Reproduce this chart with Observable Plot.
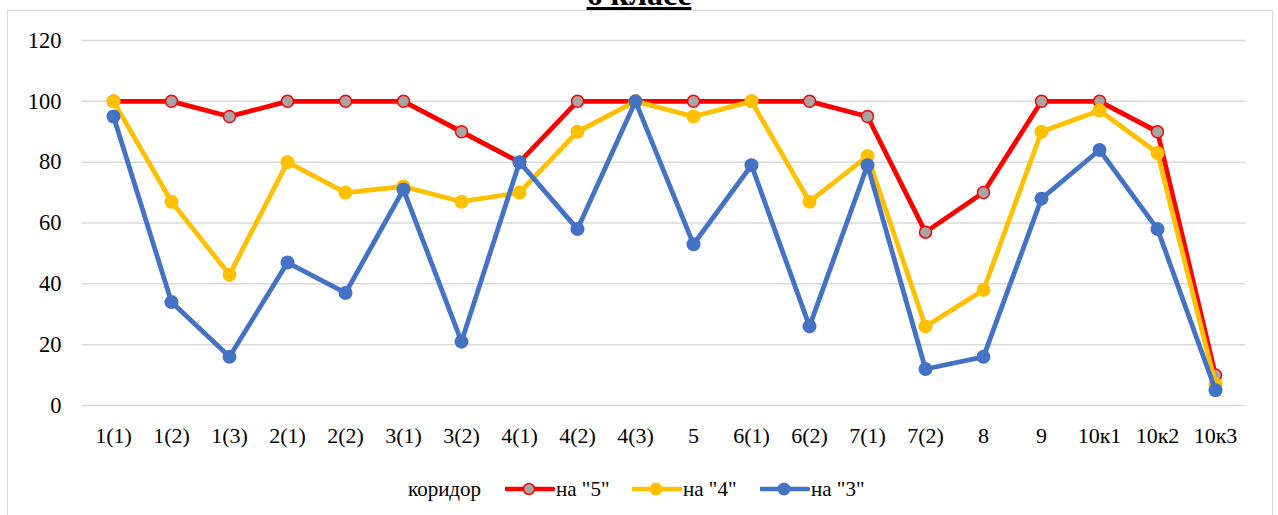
<!DOCTYPE html>
<html><head><meta charset="utf-8">
<script src="https://cdn.jsdelivr.net/npm/d3@7"></script>
<script src="https://cdn.jsdelivr.net/npm/@observablehq/plot@0.6"></script>
<style>
body{margin:0;background:#fff;}
#wrap{position:relative;width:1278px;height:515px;overflow:hidden;font-family:"Liberation Serif","Times New Roman",serif;background:#fff;}
#frame{position:absolute;left:7px;top:10px;width:1266px;height:530px;border:1.5px solid #d9d9d9;box-sizing:border-box;}
#title{position:absolute;left:0;width:1278px;top:-22px;line-height:32px;text-align:center;font-weight:bold;font-size:32px;text-decoration:underline;text-decoration-thickness:3px;color:#000;}
#chart{position:absolute;left:0;top:0;}
#chart svg text{font-family:"Liberation Serif","Times New Roman",serif;}
#legend{position:absolute;top:476px;left:0;width:1278px;height:26px;font-size:21px;color:#000;}
#legend .it{position:absolute;top:0;display:flex;align-items:center;height:26px;white-space:nowrap;}
</style></head>
<body>
<div id="wrap">
  <div id="frame"></div>
  <div id="title">6 класс</div>
  <div id="chart"></div>
  <div id="legend"></div>
</div>
<script>
const categories = ["1(1)","1(2)","1(3)","2(1)","2(2)","3(1)","3(2)","4(1)","4(2)","4(3)","5","6(1)","6(2)","7(1)","7(2)","8","9","10к1","10к2","10к3"];
const na5 = [100,100,95,100,100,100,90,80,100,100,100,100,100,95,57,70,100,100,90,10];
const na4 = [100,67,43,80,70,72,67,70,90,100,95,100,67,82,26,38,90,97,83,7];
const na3 = [95,34,16,47,37,71,21,80,58,100,53,79,26,79,12,16,68,84,58,5];
const seriesNames = ['на "5"','на "4"','на "3"'];
const yTicks = [0,20,40,60,80,100,120];
const legendExtra = "коридор";

const serif = '"Liberation Serif","Times New Roman",serif';
const colors = {'на "5"':"#FF0000",'на "4"':"#FFC000",'на "3"':"#4472C4"};
const mk = (vals, name) => categories.map((c,i)=>({cat:c, v:vals[i], s:name}));
const s5 = mk(na5, seriesNames[0]), s4 = mk(na4, seriesNames[1]), s3 = mk(na3, seriesNames[2]);

const chart = Plot.plot({
  width: 1278, height: 460,
  marginLeft: 82, marginRight: 33, marginTop: 40, marginBottom: 55,
  style: {fontFamily: serif, fontSize: "22px", color: "#000", background: "transparent", overflow: "visible"},
  x: {type: "point", domain: categories, range: [111, 1216], padding: 0, label: null},
  y: {domain: [0,120], ticks: yTicks, label: null},
  marks: [
    Plot.gridY(yTicks, {stroke: "#d9d9d9", strokeOpacity: 1, strokeWidth: 1.5}),
    Plot.axisY({ticks: yTicks, tickSize: 0, tickPadding: 21, label: null, fontSize: 22.5, fontFamily: serif}),
    Plot.axisX({tickSize: 0, tickPadding: 22, label: null, fontSize: 22, fontFamily: serif}),
    Plot.line(s5, {x: "cat", y: "v", stroke: colors[seriesNames[0]], strokeWidth: 4.8}),
    Plot.dot(s5, {x: "cat", y: "v", r: 6, fill: "#A5A5A5", stroke: "#FF0000", strokeWidth: 1.5}),
    Plot.line(s4, {x: "cat", y: "v", stroke: colors[seriesNames[1]], strokeWidth: 4.8}),
    Plot.dot(s4, {x: "cat", y: "v", r: 7, fill: "#FFC000"}),
    Plot.line(s3, {x: "cat", y: "v", stroke: colors[seriesNames[2]], strokeWidth: 4.8}),
    Plot.dot(s3, {x: "cat", y: "v", r: 7, fill: "#4472C4"})
  ]
});
document.getElementById("chart").appendChild(chart);

// legend
const lg = document.getElementById("legend");
const t0 = document.createElement("div");
t0.className = "it"; t0.style.left = "408px"; t0.textContent = legendExtra;
lg.appendChild(t0);
const lefts = [505, 632, 760];
seriesNames.forEach((n, i) => {
  const it = document.createElement("div");
  it.className = "it"; it.style.left = lefts[i] + "px";
  const sw = d3.create("svg").attr("width", 50).attr("height", 26);
  sw.append("line").attr("x1", 1).attr("x2", 48).attr("y1", 13).attr("y2", 13)
    .attr("stroke", colors[n]).attr("stroke-width", 4.5).attr("stroke-linecap", "round");
  if (i === 0) sw.append("circle").attr("cx", 24).attr("cy", 13).attr("r", 5.5).attr("fill", "#A5A5A5").attr("stroke", "#FF0000").attr("stroke-width", 1.5);
  else sw.append("circle").attr("cx", 24).attr("cy", 13).attr("r", 6.5).attr("fill", colors[n]);
  it.appendChild(sw.node());
  const sp = document.createElement("span"); sp.textContent = n; sp.style.marginLeft = "1px";
  it.appendChild(sp);
  lg.appendChild(it);
});
</script>
</body></html>
